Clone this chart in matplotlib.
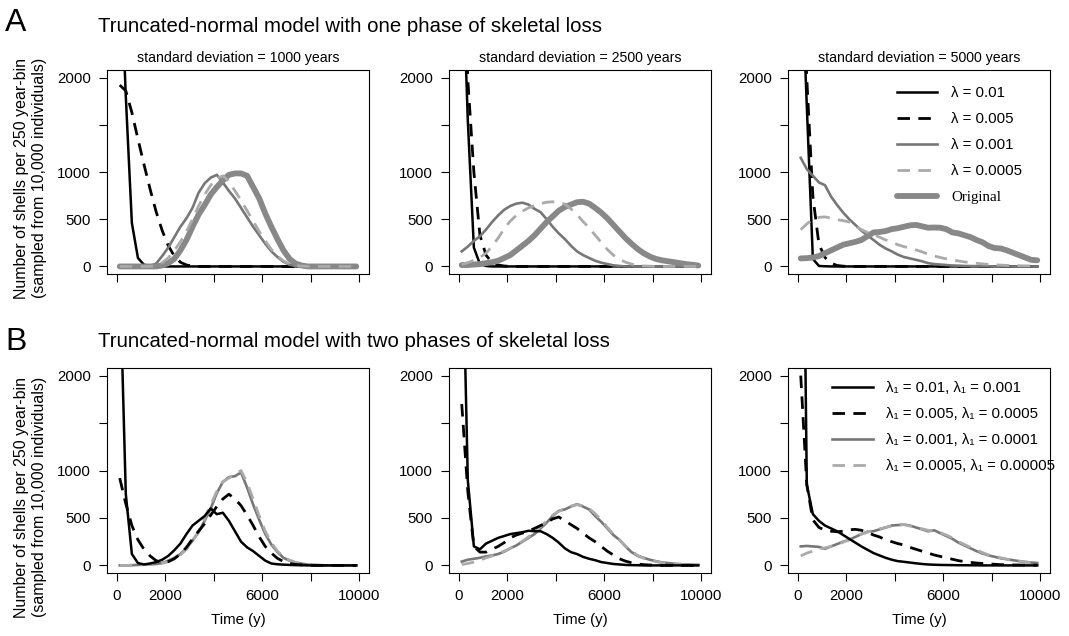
import numpy as np
import matplotlib
matplotlib.use('Agg')
import matplotlib.pyplot as plt

plt.rcParams['font.family'] = ['Liberation Sans', 'DejaVu Sans']

# bin midpoints (250 year bins)
bin_mid = np.arange(125, 10000, 250)

sd_titles = ['standard deviation = 1000 years',
             'standard deviation = 2500 years',
             'standard deviation = 5000 years']

# ---- row A: one phase of skeletal loss ----
a1_l01 = [3450, 1800, 460, 90, 18, 5, 2] + [0] * 33
a1_l005 = [1920, 1860, 1630, 1350, 1080, 820, 580, 380, 220, 110, 45, 15, 5] + [0] * 27
a1_l001 = [0, 0, 0, 0, 2, 5, 30, 110, 200, 310, 420, 510, 620, 780, 880, 940, 970, 890, 800, 720,
           620, 520, 420, 330, 240, 160, 100, 50, 18, 5] + [0] * 10
a1_l0005 = [0] * 6 + [10, 40, 90, 170, 260, 370, 500, 640, 760, 860, 930, 960, 900, 800, 700, 590,
                      480, 370, 270, 180, 110, 60, 25, 10, 5] + [0] * 9
a1_orig = [0] * 7 + [10, 35, 80, 170, 280, 420, 550, 650, 760, 840, 910, 970, 985, 985, 960, 840,
                     720, 560, 420, 290, 170, 80, 30, 10] + [0] * 9

a2_l01 = [3440, 1550, 200, 25, 5] + [0] * 35
a2_l005 = [4000, 1980, 1000, 330, 120, 40, 15, 5] + [0] * 32
a2_l001 = [160, 210, 270, 320, 390, 470, 540, 600, 640, 665, 675, 655, 610, 575, 500, 420, 350, 290,
           220, 160, 120, 90, 60, 40, 25, 12, 5] + [0] * 13
a2_l0005 = [20, 40, 65, 95, 140, 215, 300, 400, 480, 540, 585, 620, 645, 665, 680, 685, 680, 660, 610,
            550, 475, 410, 330, 255, 180, 120, 75, 45, 25, 12, 5, 3] + [0] * 8
a2_orig = [15, 15, 20, 25, 35, 45, 60, 90, 120, 170, 220, 270, 330, 400, 470, 530, 590, 630, 655, 680,
           685, 665, 620, 570, 510, 440, 370, 300, 240, 185, 140, 105, 80, 65, 55, 45, 35, 25, 18, 10]

a3_l01 = [3350, 1700, 80, 5, 2] + [0] * 35
a3_l005 = [3500, 1990, 740, 235, 95, 35, 10, 3] + [0] * 32
a3_l001 = [1150, 1030, 960, 890, 860, 740, 650, 570, 500, 440, 380, 330, 280, 230, 190, 160, 125, 100,
           85, 70, 55, 35, 25, 20, 15, 10, 8, 5, 4, 3, 2, 2] + [0] * 8
a3_l0005 = [390, 450, 500, 520, 525, 510, 495, 485, 470, 430, 390, 360, 335, 310, 280, 260, 230, 210,
            195, 175, 155, 130, 110, 95, 80, 68, 58, 48, 40, 33, 27, 22, 17, 14, 11, 9, 7, 6, 5, 5]
a3_orig = [85, 88, 95, 110, 140, 170, 200, 230, 245, 260, 280, 320, 360, 365, 375, 395, 405, 420, 435,
           440, 425, 410, 412, 410, 395, 360, 350, 330, 310, 280, 255, 215, 195, 190, 170, 145, 120,
           95, 70, 65]

# ---- row B: two phases of skeletal loss ----
b1_l01 = [3125, 750, 120, 25, 10, 20, 35, 60, 100, 160, 230, 330, 420, 470, 520, 600, 540, 555, 470,
          360, 250, 190, 150, 100, 50, 20, 12, 8, 5, 3, 2] + [0] * 9
b1_l005 = [920, 650, 420, 270, 170, 100, 50, 30, 40, 70, 120, 190, 280, 360, 440, 530, 620, 700, 750,
           700, 630, 530, 420, 300, 200, 130, 75, 40, 20, 10, 5, 2] + [0] * 8
b1_l001 = [0, 0, 2, 5, 8, 10, 15, 25, 50, 80, 120, 180, 260, 350, 470, 600, 760, 880, 930, 940, 980,
           820, 640, 480, 330, 220, 140, 80, 50, 30, 18, 10, 5, 3] + [0] * 6
b1_l0005 = [0, 0, 2, 5, 8, 10, 15, 22, 40, 70, 110, 170, 260, 360, 490, 640, 780, 880, 920, 960, 1000,
            870, 700, 520, 360, 240, 150, 90, 55, 32, 18, 10, 5, 3] + [0] * 6

b2_l01 = [3800, 900, 200, 170, 230, 260, 290, 310, 330, 340, 350, 365, 360, 360, 330, 290, 240, 180,
          140, 120, 90, 70, 55, 35, 25, 15, 10, 5, 3, 2] + [0] * 10
b2_l005 = [1700, 780, 200, 140, 140, 170, 200, 240, 290, 320, 340, 360, 390, 420, 450, 490, 510, 470,
           430, 390, 340, 290, 250, 200, 150, 110, 70, 45, 28, 15, 8, 4, 2] + [0] * 7
b2_l001 = [40, 60, 70, 80, 95, 105, 120, 145, 180, 210, 250, 290, 330, 390, 450, 520, 575, 590, 620,
           645, 620, 590, 520, 460, 390, 320, 270, 200, 140, 100, 80, 60, 45, 32, 25, 18, 14, 10, 8, 6]
b2_l0005 = [10, 20, 35, 55, 80, 100, 125, 150, 180, 215, 255, 300, 350, 410, 470, 530, 570, 600, 625,
            640, 630, 600, 545, 480, 400, 330, 270, 205, 150, 105, 75, 55, 40, 28, 20, 14, 10, 7, 5, 4]

b3_l01 = [6440, 850, 540, 470, 420, 390, 360, 320, 280, 240, 200, 165, 130, 105, 80, 60, 45, 38, 30,
          22, 15, 10, 7, 5, 4, 3, 2, 2, 1, 1] + [0] * 10
b3_l005 = [2000, 850, 480, 400, 370, 360, 355, 360, 375, 380, 370, 350, 320, 300, 270, 250, 230, 215,
           190, 170, 150, 130, 110, 95, 80, 65, 50, 40, 32, 25, 20, 15, 12, 8, 6, 5, 4, 3, 2, 2]
b3_l001 = [200, 205, 200, 195, 175, 200, 225, 250, 270, 300, 330, 355, 360, 380, 400, 420, 425, 430,
           420, 400, 380, 360, 370, 340, 310, 280, 240, 210, 180, 150, 125, 105, 90, 75, 65, 55, 45,
           35, 30, 25]
b3_l0005 = [100, 130, 150, 170, 185, 200, 220, 245, 270, 300, 330, 350, 365, 385, 400, 415, 425, 430,
            415, 400, 385, 370, 360, 345, 320, 290, 250, 220, 190, 160, 135, 110, 95, 80, 65, 55, 45,
            38, 30, 25]

labels_a = ['λ = 0.01', 'λ = 0.005', 'λ = 0.001', 'λ = 0.0005', 'Original']
labels_b = ['λ\u2081 = 0.01, λ\u2081 = 0.001', 'λ\u2081 = 0.005, λ\u2081 = 0.0005',
            'λ\u2081 = 0.001, λ\u2081 = 0.0001', 'λ\u2081 = 0.0005, λ\u2081 = 0.00005']

rows_a = [[a1_l01, a1_l005, a1_l001, a1_l0005, a1_orig],
          [a2_l01, a2_l005, a2_l001, a2_l0005, a2_orig],
          [a3_l01, a3_l005, a3_l001, a3_l0005, a3_orig]]
rows_b = [[b1_l01, b1_l005, b1_l001, b1_l0005],
          [b2_l01, b2_l005, b2_l001, b2_l0005],
          [b3_l01, b3_l005, b3_l001, b3_l0005]]

# line styles: black, black dashed, gray, light gray dashed, thick gray
styles = [dict(color='black', lw=1.8, ls='-'),
          dict(color='black', lw=2.0, ls=(0, (4.5, 3))),
          dict(color='#777777', lw=1.9, ls='-'),
          dict(color='#aaaaaa', lw=2.0, ls=(0, (4.5, 3))),
          dict(color='#888888', lw=4.2, ls='-', solid_capstyle='round')]
z_a = [2.0, 2.1, 2.2, 2.4, 2.3]
z_b = [2.3, 2.2, 2.0, 2.1]

W, H = 1069, 636
fig = plt.figure(figsize=(W / 100, H / 100), dpi=100)

col_left = [107, 449, 788]
ax_w = 262
row_box = [(70, 274), (368, 573)]
tick_fs = 10.8


def make_ax(left, top, bottom):
    ax = fig.add_axes([left / W, (H - bottom) / H, ax_w / W, (bottom - top) / H])
    ax.set_xlim(-400, 10400)
    ax.set_ylim(-80, 2080)
    ax.set_yticks([0, 500, 1000, 1500, 2000])
    ax.set_yticklabels(['0', '500', '1000', '', '2000'])
    ax.set_xticks([0, 2000, 4000, 6000, 8000, 10000])
    ax.tick_params(direction='out', length=5.5, width=0.8, labelsize=tick_fs, pad=6)
    for s in ax.spines.values():
        s.set_linewidth(0.8)
    return ax


for i in range(3):
    ax = make_ax(col_left[i], *row_box[0])
    for j in range(5):
        ax.plot(bin_mid, rows_a[i][j], label=labels_a[j], zorder=z_a[j], **styles[j])
    ax.set_xticklabels([])
    ax.set_title(sd_titles[i], fontsize=10.2, pad=6)
    if i == 2:
        leg = ax.legend(loc='upper left', bbox_to_anchor=(0.416, 0.92), frameon=False,
                        fontsize=tick_fs, handlelength=2.7, handletextpad=0.9,
                        labelspacing=0.8, borderpad=0, borderaxespad=0)
        leg.get_texts()[4].set_family('Liberation Serif')

for i in range(3):
    ax = make_ax(col_left[i], *row_box[1])
    for j in range(4):
        ax.plot(bin_mid, rows_b[i][j], label=labels_b[j], zorder=z_b[j], **styles[j])
    ax.set_xticklabels(['0', '2000', '', '6000', '', '10000'])
    ax.set_xlabel('Time (y)', fontsize=tick_fs, labelpad=7)
    if i == 2:
        ax.legend(loc='upper left', bbox_to_anchor=(0.168, 0.935), frameon=False,
                  fontsize=tick_fs, handlelength=2.7, handletextpad=0.9,
                  labelspacing=0.8, borderpad=0, borderaxespad=0)

# panel letters and titles
fig.text(5 / W, 1 - 31 / H, 'A', fontsize=23, va='baseline')
fig.text(98 / W, 1 - 32 / H, 'Truncated-normal model with one phase of skeletal loss',
         fontsize=14.7, va='baseline')
fig.text(5 / W, 1 - 350 / H, 'B', fontsize=23, va='baseline')
fig.text(98 / W, 1 - 347 / H, 'Truncated-normal model with two phases of skeletal loss',
         fontsize=14.7, va='baseline')

# y labels
for yc in [178, 497]:
    fig.text(22 / W, 1 - yc / H, 'Number of shells per 250 year-bin', rotation=90,
             ha='center', va='center', fontsize=11.5)
    fig.text(40 / W, 1 - yc / H, '(sampled from 10,000 individuals)', rotation=90,
             ha='center', va='center', fontsize=11.5)

fig.savefig('out.png', dpi=100)
